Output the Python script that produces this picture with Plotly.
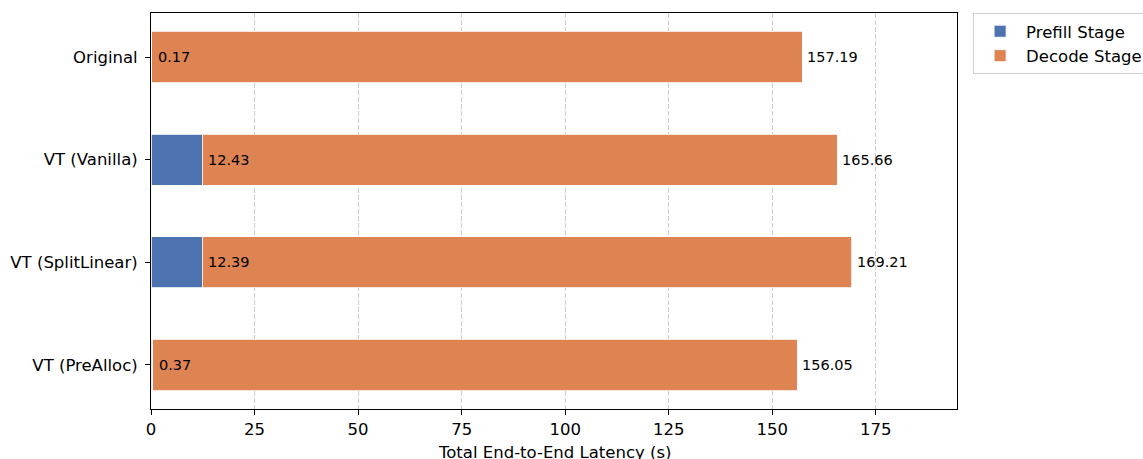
import plotly.graph_objects as go

# Latency breakdown per configuration (seconds)
configs = ["Original", "VT (Vanilla)", "VT (SplitLinear)", "VT (PreAlloc)"]
prefill = [0.17, 12.43, 12.39, 0.37]
total = [157.19, 165.66, 169.21, 156.05]
decode = [round(t - p, 2) for t, p in zip(total, prefill)]

BLUE = "#4C72B0"
ORANGE = "#DD8452"
FONT = "DejaVu Sans"

fig = go.Figure()
fig.add_trace(go.Bar(
    y=configs, x=prefill, name="Prefill Stage", orientation="h",
    marker=dict(color=BLUE, line=dict(color="white", width=0.8)), width=0.5,
))
fig.add_trace(go.Bar(
    y=configs, x=decode, name="Decode Stage", orientation="h",
    marker=dict(color=ORANGE, line=dict(color="white", width=0.8)), width=0.5,
))

# Value labels: prefill time near the start, total time past the bar end
for c, p, t in zip(configs, prefill, total):
    fig.add_annotation(x=p, y=c, text=f"{p:.2f}", showarrow=False,
                       xanchor="left", xshift=4, font=dict(size=14.5, color="black", family=FONT))
    fig.add_annotation(x=t, y=c, text=f"{t:.2f}", showarrow=False,
                       xanchor="left", xshift=3, font=dict(size=14.5, color="black", family=FONT))

# X-axis title placed below the tick labels
fig.add_annotation(x=0.5, xref="paper", y=0, yref="paper", yshift=-43,
                   xanchor="center", yanchor="middle", showarrow=False,
                   text="Total End-to-End Latency (s)",
                   font=dict(size=16.5, color="black", family=FONT))

fig.update_layout(
    barmode="stack",
    width=1143, height=459,
    margin=dict(l=151, r=186, t=13, b=50, autoexpand=False),
    plot_bgcolor="white", paper_bgcolor="white",
    font=dict(family=FONT, size=16.5, color="black"),
    legend=dict(
        x=1.02, y=1.0, xanchor="left", yanchor="top",
        bordercolor="#d0d0d0", borderwidth=1,
        font=dict(size=16.5, family=FONT), traceorder="normal",
        itemwidth=42,
    ),
    xaxis=dict(
        range=[0, 194.6], tickvals=[0, 25, 50, 75, 100, 125, 150, 175],
        showgrid=True, gridcolor="#cccccc", griddash="5px,2px", gridwidth=1,
        showline=True, linecolor="black", linewidth=1, mirror=True,
        ticks="outside", ticklen=5, tickcolor="black",
        zeroline=False, automargin=False,
        tickfont=dict(size=16.5),
    ),
    yaxis=dict(
        categoryorder="array", categoryarray=configs,
        range=[3.43, -0.43], automargin=False,
        showgrid=False, showline=True, linecolor="black", linewidth=1, mirror=True,
        ticks="outside", ticklen=5, tickcolor="black",
        ticklabelstandoff=4,
        tickfont=dict(size=16.5),
    ),
)

fig.write_html("out.html")
